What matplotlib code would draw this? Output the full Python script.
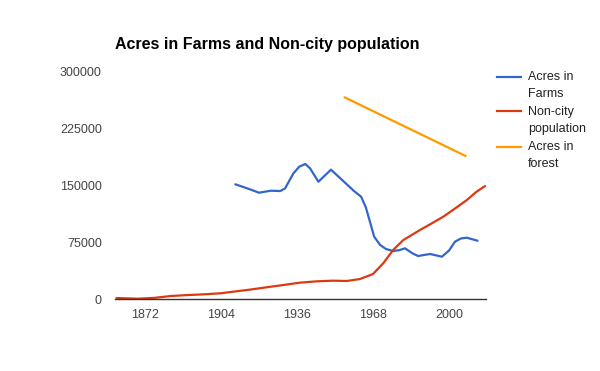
import matplotlib
matplotlib.use("Agg")
import matplotlib.pyplot as plt
from matplotlib.lines import Line2D

title = "Acres in Farms and Non-city population"

farm_years = [1910, 1915, 1920, 1925, 1929, 1931, 1934.5, 1937, 1939.5, 1941.5, 1945, 1948, 1950.3, 1955, 1960, 1963, 1965, 1968.5, 1971, 1973.5, 1976.5, 1979, 1981.5, 1984.5, 1987, 1992, 1997, 2000, 2002.5, 2005, 2007.5, 2012]
farm_vals = [151600, 146300, 140500, 143100, 142700, 146300, 166100, 175000, 178400, 172700, 155000, 164000, 170900, 157300, 142700, 135200, 121000, 82300, 71400, 66000, 63400, 64500, 67000, 60500, 56800, 59500, 55900, 64000, 75700, 80000, 81000, 77000]

pop_years = [1860, 1869, 1876, 1883, 1890, 1897, 1904, 1909, 1916, 1923, 1930, 1937, 1944, 1951, 1957, 1962.5, 1968, 1972.3, 1976.5, 1980.8, 1987.8, 1992.5, 1997.6, 2002.5, 2007.5, 2011.5, 2015.2]
pop_vals = [1300, 400, 1500, 4000, 5200, 6200, 7600, 9600, 12300, 15400, 18400, 21500, 23300, 24200, 23800, 26400, 33000, 47200, 64800, 78000, 91200, 99500, 108800, 119500, 130800, 141500, 149300]

forest_years = [1956, 2007]
forest_vals = [266600, 189000]

yticks = [0, 75000, 150000, 225000, 300000]
xticks = [1872, 1904, 1936, 1968, 2000]

legend_labels = [["Acres in", "Farms"], ["Non-city", "population"], ["Acres in", "forest"]]
colors = ['#3366cc', '#dc3912', '#ff9900']

plt.rcParams['font.family'] = ['Liberation Sans', 'DejaVu Sans']

fig = plt.figure(figsize=(6, 3.71), dpi=100)
ax = fig.add_axes([115/600, 1-299/371, (486-115)/600, (299-72)/371])

ax.plot(farm_years, farm_vals, color=colors[0], lw=1.6, solid_joinstyle='round', solid_capstyle='round')
ax.plot(pop_years, pop_vals, color=colors[1], lw=1.6, solid_joinstyle='round', solid_capstyle='round')
ax.plot(forest_years, forest_vals, color=colors[2], lw=1.6, solid_capstyle='round')

x0 = 1872 - (145-115)/2.375
x1 = 1872 + (486-145)/2.375
ax.set_xlim(x0, x1)
ax.set_ylim(0, 300000)
ax.set_yticks(yticks)
ax.set_yticklabels([str(v) for v in yticks])
ax.set_xticks(xticks)
ax.set_xticklabels([str(v) for v in xticks])
for s in ['top', 'right', 'left']:
    ax.spines[s].set_visible(False)
ax.spines['bottom'].set_color('#333333')
ax.spines['bottom'].set_linewidth(1)
ax.tick_params(axis='both', length=0, labelsize=9, colors='#444444')
ax.tick_params(axis='y', pad=9.5)
ax.tick_params(axis='x', pad=7.5)

fig.text(115/600, 1-45/371, title, fontsize=11.5, fontweight='bold', ha='left', va='center', color='#000000')

# legend
line_y = [76.5, 111.3, 146.5]
for i, (labs, c) in enumerate(zip(legend_labels, colors)):
    y = line_y[i]
    fig.add_artist(Line2D([497/600, 521/600], [1-y/371, 1-y/371], color=c, lw=1.6, transform=fig.transFigure))
    for j, lab in enumerate(labs):
        fig.text(528/600, 1-(y+0.5+j*17.2)/371, lab, fontsize=9, color='#222222', ha='left', va='center')

fig.savefig('out.png', dpi=100)
